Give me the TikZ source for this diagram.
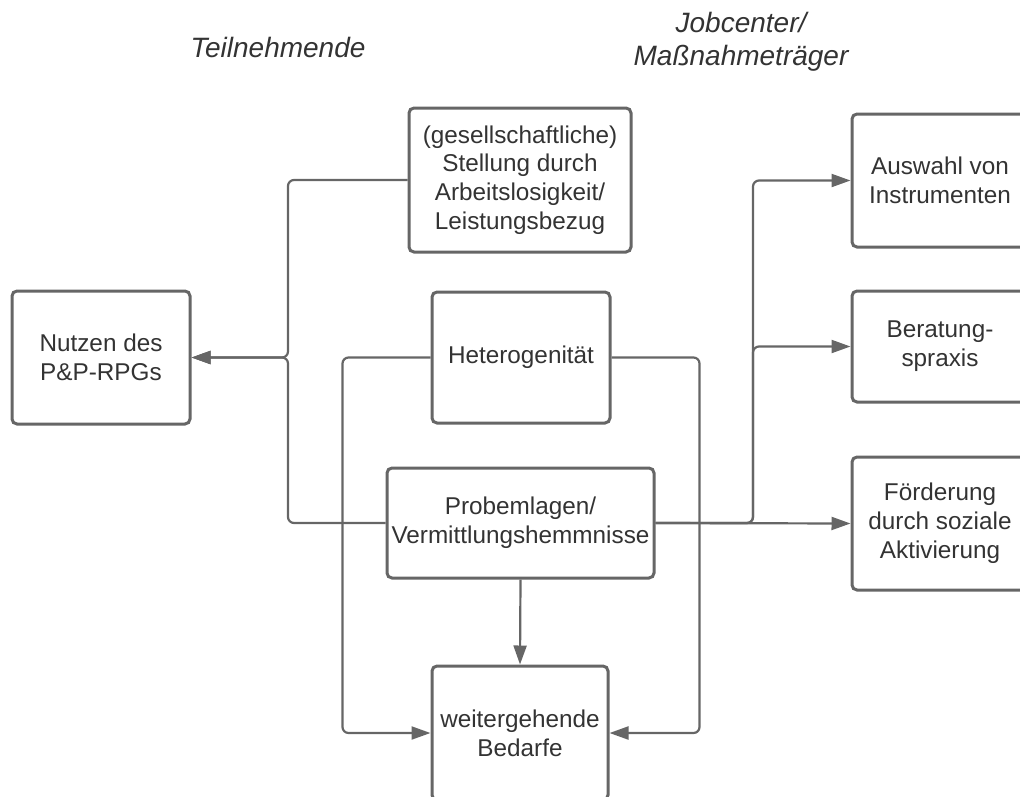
\documentclass[tikz,border=0pt]{standalone}
\usepackage{fontspec}
\setmainfont{Liberation Sans}
\usetikzlibrary{arrows.meta}
\definecolor{linegray}{RGB}{102,102,102}
\definecolor{textgray}{RGB}{51,51,51}

\begin{document}
\begin{tikzpicture}[x=1pt,y=-1pt,
		box/.style={draw=linegray, line width=3pt, rounded corners=5pt, fill=white, text=textgray, align=center, inner sep=1pt, font=\fontsize{24.3}{28.8}\selectfont},
		conn/.style={draw=linegray, line width=2.2pt, rounded corners=6pt, -{Triangle[length=19pt,width=13pt]}},
		head/.style={text=textgray, align=center, font=\itshape\fontsize{28}{33}\selectfont}]
		\useasboundingbox (0,0) rectangle (1020,796);
		\clip (0,0) rectangle (1020,796);
		\node[head, anchor=base] (teiln) at (278,57) {Teilnehmende};
		\node[head, anchor=base] (jobc) at (741,65) {Jobcenter/\\Maßnahmeträger};
		\node[box, minimum width=178pt, minimum height=133pt] (nutzen) at (101,357.5) {Nutzen des\\P\&P-RPGs};
		\node[box, minimum width=222pt, minimum height=144pt] (stell) at (520,180) {(gesellschaftliche)\\Stellung durch\\Arbeitslosigkeit/\\Leistungsbezug};
		\node[box, minimum width=178pt, minimum height=131pt] (hetero) at (521,357.5) {Heterogenität};
		\node[box, minimum width=267pt, minimum height=110pt] (probl) at (520.5,523) {Probemlagen/\\Vermittlungshemmnisse};
		\node[box, minimum width=176pt, minimum height=134pt] (weiter) at (520,733) {weitergehende\\Bedarfe};
		\node[box, minimum width=176pt, minimum height=133pt] (auswahl) at (940,180.5) {Auswahl von\\Instrumenten};
		\node[box, minimum width=176pt, minimum height=111pt] (berat) at (940,346.5) {Beratung-\\spraxis};
		\node[box, minimum width=176pt, minimum height=133pt] (foerd) at (940,523.5) {Förderung\\durch soziale\\Aktivierung};
		\coordinate (jl) at (288,357.5);
		\coordinate (jr) at (753,523);
		\draw[conn] (stell.west) -| (jl) -- (nutzen.east);
		\draw[conn] (probl.west) -| (jl) -- (nutzen.east);
		\draw[conn] (hetero.west) -- ++(-88,0) |- (weiter.west);
		\draw[conn] (hetero.east) -- ++(88,0) |- (weiter.east);
		\draw[conn] (probl.south) -- (weiter.north);
		\draw[conn] (probl.east) -- (jr) |- (auswahl.west);
		\draw[conn] (probl.east) -- (jr) |- (berat.west);
		\draw[conn] (probl.east) -- (foerd.west);
	\end{tikzpicture}
\end{document}
